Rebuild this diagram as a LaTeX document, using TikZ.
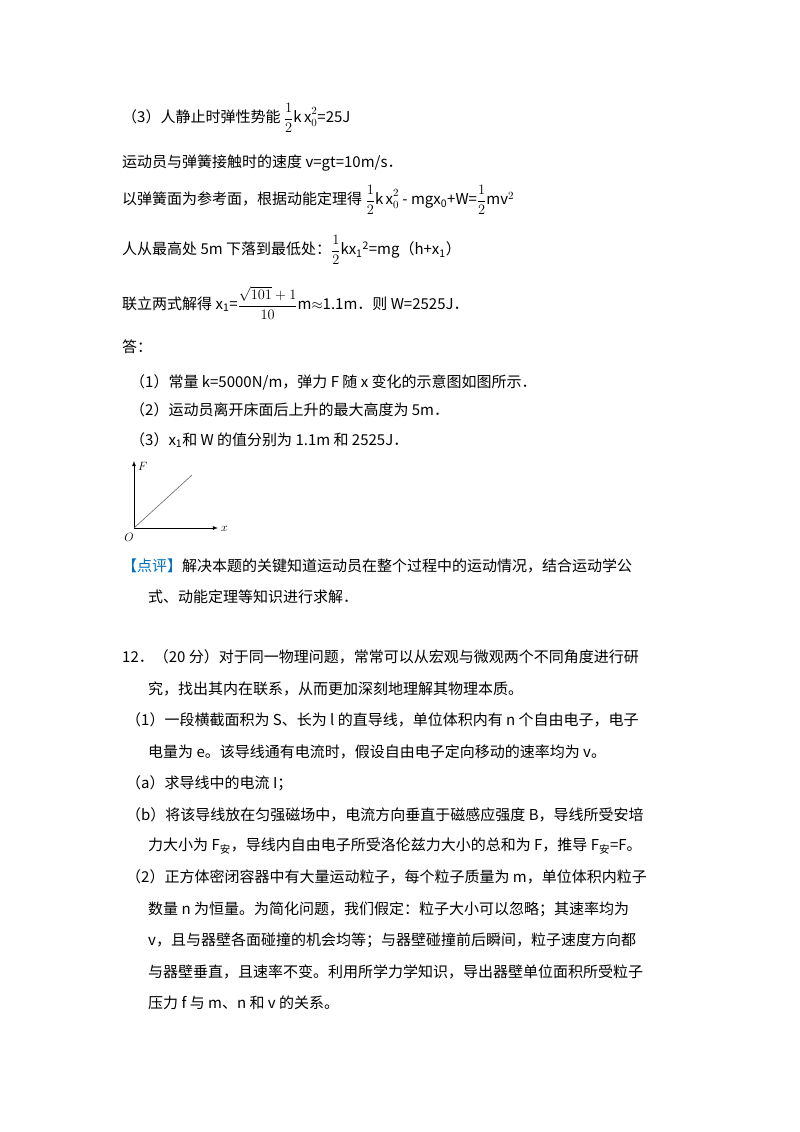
\documentclass[tikz,border=0pt]{standalone}
\usepackage{amsmath}
\usepackage{fontspec}
\setmainfont{Noto Sans CJK SC}
\begin{document}
\begin{tikzpicture}[x=1pt,y=-1pt,
  tx/.style={anchor=west,inner sep=0pt,font=\fontsize{15}{18}\selectfont},
  ax/.style={line width=0.8pt,-latex}]
\useasboundingbox (0,0) rectangle (800,1132);
\fill[white] (0,0) rectangle (800,1132);
\node[tx] (l1) at (122,118) {（3）人静止时弹性势能 $\dfrac{1}{2}\mathrm{k\,x}_0^2$=25J};
\node[tx] (l2) at (122,163) {运动员与弹簧接触时的速度 v=gt=10m/s．};
\node[tx] (l3) at (122,200) {以弹簧面为参考面，根据动能定理得 $\dfrac{1}{2}\mathrm{k\,x}_0^2$ - mgx\textsubscript{0}+W=$\dfrac{1}{2}\mathrm{mv}^2$};
\node[tx] (l4) at (122,250) {人从最高处 5m 下落到最低处：$\dfrac{1}{2}$kx\textsubscript{1}\textsuperscript{2}=mg（h+x\textsubscript{1}）};
\node[tx] (l5) at (122,303) {联立两式解得 x\textsubscript{1}=$\dfrac{\sqrt{101}+1}{10}$m$\approx$1.1m．则 W=2525J．};
\node[tx] (l6) at (122,347) {答：};
\node[tx] (l7) at (130,382) {（1）常量 k=5000N/m，弹力 F 随 x 变化的示意图如图所示．};
\node[tx] (l8) at (130,410) {（2）运动员离开床面后上升的最大高度为 5m．};
\node[tx] (l9) at (130,440) {（3）x\textsubscript{1}和 W 的值分别为 1.1m 和 2525J．};
\coordinate (O) at (134,528);
\coordinate (Y) at (134,461);
\coordinate (X) at (218,528);
\coordinate (P) at (192,475);
\draw[ax] (O) -- (Y);
\draw[ax] (O) -- (X);
\draw[line width=0.6pt,gray!80!black] (O) -- (P);
\node[anchor=west,inner sep=0pt,font=\fontsize{12}{12}\selectfont] (F) at (138,466) {$F$};
\node[anchor=west,inner sep=0pt,font=\fontsize{12}{12}\selectfont] (xl) at (221,529) {$x$};
\node[anchor=east,inner sep=0pt,font=\fontsize{13}{13}\selectfont] (Ol) at (134,537) {$O$};
\node[tx] (c1) at (122,566) {\textcolor[RGB]{0,112,192}{【点评】}解决本题的关键知道运动员在整个过程中的运动情况，结合运动学公};
\node[tx] (c2) at (148,597) {式、动能定理等知识进行求解．};
\node[tx] (q1) at (122,657) {12．（20 分）对于同一物理问题，常常可以从宏观与微观两个不同角度进行研};
\node[tx] (q2) at (148,689) {究，找出其内在联系，从而更加深刻地理解其物理本质。};
\node[tx] (q3) at (126,720) {（1）一段横截面积为 S、长为 l 的直导线，单位体积内有 n 个自由电子，电子};
\node[tx] (q4) at (148,752) {电量为 e。该导线通有电流时，假设自由电子定向移动的速率均为 v。};
\node[tx] (q5) at (126,783) {（a）求导线中的电流 I；};
\node[tx] (q6) at (126,815) {（b）将该导线放在匀强磁场中，电流方向垂直于磁感应强度 B，导线所受安培};
\node[tx] (q7) at (148,846) {力大小为 F\textsubscript{安}，导线内自由电子所受洛伦兹力大小的总和为 F，推导 F\textsubscript{安}=F。};
\node[tx] (q8) at (126,877) {（2）正方体密闭容器中有大量运动粒子，每个粒子质量为 m，单位体积内粒子};
\node[tx] (q9) at (148,909) {数量 n 为恒量。为简化问题，我们假定：粒子大小可以忽略；其速率均为};
\node[tx] (q10) at (148,940) {v，且与器壁各面碰撞的机会均等；与器壁碰撞前后瞬间，粒子速度方向都};
\node[tx] (q11) at (148,972) {与器壁垂直，且速率不变。利用所学力学知识，导出器壁单位面积所受粒子};
\node[tx] (q12) at (148,1003) {压力 f 与 m、n 和 v 的关系。};
\end{tikzpicture}
\end{document}
